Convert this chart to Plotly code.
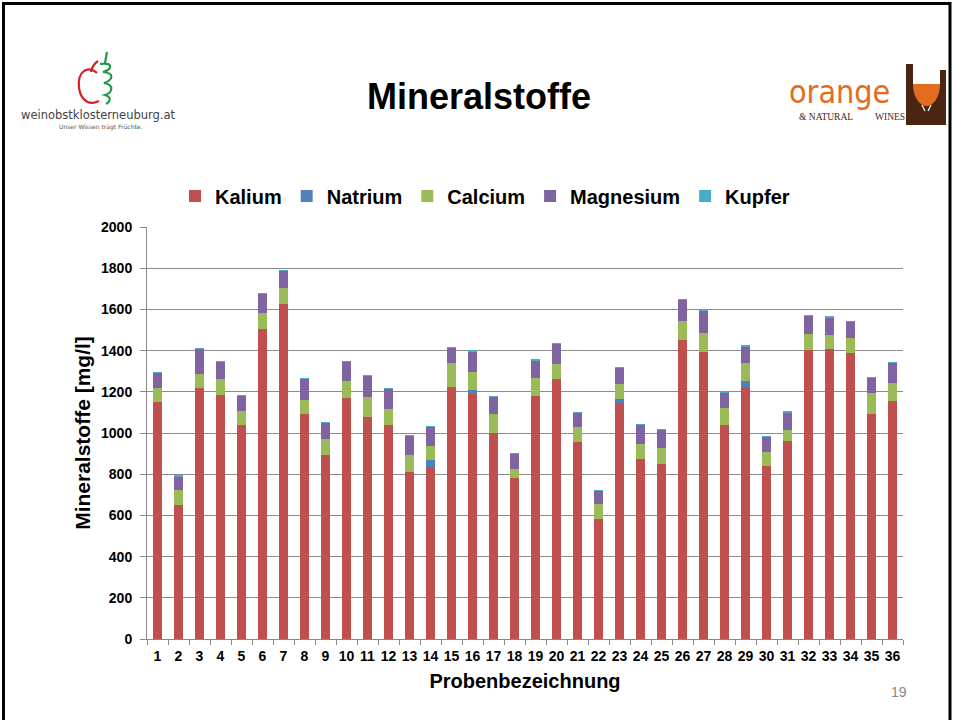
import plotly.graph_objects as go

# ---------------- data ----------------
proben = [str(i) for i in range(1, 37)]
kalium = [1150, 649, 1218, 1183, 1039, 1505, 1626, 1092, 893, 1172,
          1080, 1037, 809, 837, 1222, 1189, 999, 782, 1180, 1261,
          956, 584, 1146, 872, 848, 1453, 1395, 1037, 1223, 840,
          961, 1401, 1406, 1388, 1094, 1155]
natrium = [0, 0, 0, 0, 0, 0, 0, 0, 0, 0,
           0, 0, 0, 32, 0, 22, 0, 0, 0, 0,
           0, 0, 21, 0, 0, 0, 0, 0, 31, 0,
           0, 0, 0, 0, 0, 0]
calcium = [67, 73, 68, 78, 66, 78, 78, 70, 76, 79,
           95, 78, 84, 68, 116, 85, 93, 45, 89, 76,
           72, 71, 69, 76, 81, 91, 89, 83, 88, 66,
           55, 81, 71, 72, 100, 90]
magnesium = [78, 69, 125, 85, 78, 95, 84, 102, 83, 95,
             105, 100, 94, 94, 76, 102, 85, 73, 85, 97,
             71, 67, 81, 93, 86, 104, 110, 76, 79, 78,
             84, 88, 86, 81, 73, 97]
kupfer = [1, 1, 1, 1, 1, 1, 2, 1, 1, 1,
          1, 1, 1, 1, 1, 1, 2, 1, 1, 1,
          1, 1, 2, 1, 1, 2, 1, 1, 2, 1,
          2, 1, 2, 1, 1, 2]

series = [
    ("Kalium", kalium, "#C0504D"),
    ("Natrium", natrium, "#4F81BD"),
    ("Calcium", calcium, "#9BBB59"),
    ("Magnesium", magnesium, "#8064A2"),
    ("Kupfer", kupfer, "#4BACC6"),
]
y_ticks = [0, 200, 400, 600, 800, 1000, 1200, 1400, 1600, 1800, 2000]

# ---------------- layout geometry ----------------
FW, FH = 954, 720
L, R, T, B = 147, 51, 227, 81
PW, PH = FW - L - R, FH - T - B


def px(x):
    return (x - L) / PW


def py(y):
    return (FH - B - y) / PH


def path(cmds):
    out = []
    for c, pts in cmds:
        seg = c + " " + " ".join(f"{px(a):.5f},{py(b):.5f}" for a, b in pts)
        out.append(seg)
    return " ".join(out)


FONT = "Liberation Sans, Arial, sans-serif"

fig = go.Figure()
for name, vals, col in series:
    fig.add_trace(go.Bar(name=name, x=proben, y=vals, marker_color=col,
                         marker_line_width=0))

shapes = []
# slide border
shapes.append(dict(type="rect", xref="paper", yref="paper",
                   x0=px(3.5), x1=px(950), y0=py(730), y1=py(3.5),
                   line=dict(color="black", width=3), layer="above"))
# left logo: apple outline + green swirl
shapes.append(dict(type="path", xref="paper", yref="paper",
                   path=path([("M", [(97, 73)]),
                              ("C", [(88, 65), (77, 71), (79, 88)]),
                              ("C", [(81, 101), (90, 106), (99, 101)]),
                              ("M", [(91, 72)]),
                              ("C", [(92, 66), (95, 63), (98, 61)])]),
                   line=dict(color="#D2232A", width=2.2)))
shapes.append(dict(type="path", xref="paper", yref="paper",
                   path=path([("M", [(107, 52)]), ("L", [(105, 63)]),
                              ("M", [(100, 64)]),
                              ("C", [(113, 62), (113, 69), (103, 72)]),
                              ("C", [(115, 73), (113, 80), (104, 83)]),
                              ("C", [(115, 85), (112, 93), (105, 95)]),
                              ("C", [(112, 97), (110, 102), (106, 104)])]),
                   line=dict(color="#1E9A4A", width=2.2)))
# right logo: glass
shapes.append(dict(type="rect", xref="paper", yref="paper",
                   x0=px(906), x1=px(946), y0=py(125), y1=py(64),
                   fillcolor="#4A2511", line=dict(width=0)))
shapes.append(dict(type="rect", xref="paper", yref="paper",
                   x0=px(913), x1=px(940), y0=py(84), y1=py(63),
                   fillcolor="white", line=dict(width=0)))
shapes.append(dict(type="rect", xref="paper", yref="paper",
                   x0=px(940), x1=px(947), y0=py(70), y1=py(63),
                   fillcolor="white", line=dict(width=0)))
shapes.append(dict(type="path", xref="paper", yref="paper",
                   path=path([("M", [(913, 84)]), ("L", [(940, 84)]),
                              ("C", [(940, 99), (932, 106), (926.5, 106)]),
                              ("C", [(921, 106), (913, 99), (913, 84)])]) + " Z",
                   fillcolor="#E46C1E", line=dict(width=0)))
shapes.append(dict(type="path", xref="paper", yref="paper",
                   path=path([("M", [(922, 105)]), ("L", [(925, 111), (925, 124)]),
                              ("M", [(931, 105)]), ("L", [(928, 111), (928, 124)])]),
                   line=dict(color="white", width=1.2)))


def ann(text, x, y, size, color="black", family=FONT, weight="normal"):
    return dict(text=text, x=px(x), y=py(y), xref="paper", yref="paper",
                xanchor="center", yanchor="middle", showarrow=False,
                font=dict(family=family, size=size, color=color, weight=weight))


annotations = [
    ann("Mineralstoffe", 479, 96, 36, weight="bold"),
    ann("weinobstklosterneuburg.at", 98, 115, 11.5, "#444444", "DejaVu Sans"),
    ann("Unser Wissen trägt Früchte.", 101, 127, 6, "#555555", "DejaVu Sans"),
    ann("orange", 839, 92, 32, "#E46C1E",
        "Liberation Sans Narrow, DejaVu Sans Condensed, sans-serif"),
    ann("& NATURAL", 826, 117, 9.5, "#4A2511", "Liberation Serif"),
    ann("WINES", 890, 117, 9.5, "#4A2511", "Liberation Serif"),
    ann("19", 899, 692, 14, "#888888"),
]

fig.update_layout(
    width=FW, height=FH,
    margin=dict(l=L, r=R, t=T, b=B, autoexpand=False),
    paper_bgcolor="white", plot_bgcolor="white",
    barmode="stack", bargap=0.57,
    font=dict(family=FONT, color="black"),
    showlegend=True,
    legend=dict(orientation="h", x=px(485), xanchor="center", y=py(196), yanchor="middle",
                font=dict(family=FONT, size=20, color="black", weight="bold"),
                itemwidth=30, traceorder="normal", itemclick=False),
    shapes=shapes,
    annotations=annotations,
    xaxis=dict(
        type="category", tickson="boundaries", ticks="outside", ticklen=5,
        tickcolor="#888888", showline=True, linecolor="#888888", linewidth=1,
        showgrid=False, tickangle=0, ticklabelstandoff=4,
        tickfont=dict(family=FONT, size=14, color="black", weight="bold"),
        title=dict(text="Probenbezeichnung", standoff=11,
                   font=dict(family=FONT, size=20, color="black", weight="bold")),
    ),
    yaxis=dict(
        range=[0, 2000], tickvals=y_ticks, ticks="outside", ticklen=6,
        tickcolor="#888888", showline=True, linecolor="#888888", linewidth=1,
        showgrid=True, gridcolor="#8C8C8C", gridwidth=1, zeroline=False,
        ticklabelstandoff=5,
        tickfont=dict(family=FONT, size=14, color="black", weight="bold"),
        title=dict(text="Mineralstoffe [mg/l]", standoff=4,
                   font=dict(family=FONT, size=21, color="black", weight="bold")),
    ),
)

fig.write_html("out.html",
               config={"displayModeBar": False},
               post_script="document.body.style.margin='0';"
                           "document.body.style.overflow='hidden';")
